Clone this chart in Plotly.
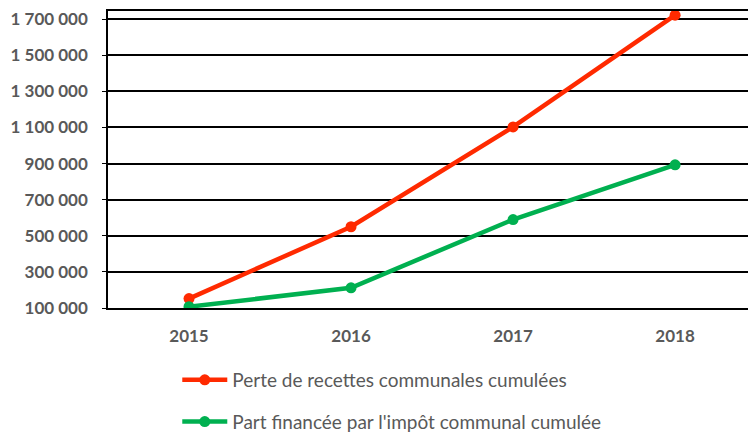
import plotly.graph_objects as go

years = ["2015", "2016", "2017", "2018"]
perte = [152000, 550000, 1103000, 1722000]
part = [107000, 212000, 590000, 893000]
y_ticks = [100000, 300000, 500000, 700000, 900000, 1100000, 1300000, 1500000, 1700000]
y_tick_labels = ["100 000", "300 000", "500 000", "700 000", "900 000",
                 "1 100 000", "1 300 000", "1 500 000", "1 700 000"]

fig = go.Figure()
fig.add_trace(go.Scatter(
    x=years, y=perte, mode="lines+markers",
    name="Perte de recettes communales cumulées",
    line=dict(color="#FF2A00", width=4.5),
    marker=dict(color="#FF2A00", size=11),
    legendgroup="a",
))
fig.add_trace(go.Scatter(
    x=years, y=part, mode="lines+markers",
    name="Part financée par l'impôt communal cumulée",
    line=dict(color="#00B050", width=4.5),
    marker=dict(color="#00B050", size=11),
    legendgroup="b",
))

tick_font = dict(family="Lato", size=17, color="#595959", weight="bold")

fig.update_layout(
    width=748, height=436,
    margin=dict(l=108, r=0, t=11, b=128, autoexpand=False),
    paper_bgcolor="white", plot_bgcolor="white",
    font=dict(family="Lato", color="#595959"),
    showlegend=True,
    legend=dict(
        orientation="v", xref="container", yref="container",
        x=0.237, y=0.172, xanchor="left", yanchor="top",
        font=dict(family="Lato", size=19, color="#595959"),
        tracegroupgap=14,
        itemwidth=45,
    ),
    xaxis=dict(
        type="category", range=[-0.5, 3.45],
        showgrid=False, showline=True, mirror=True,
        linecolor="black", linewidth=1.5,
        ticks="", tickfont=tick_font, ticklabelstandoff=12,
        zeroline=False, automargin=False,
    ),
    yaxis=dict(
        range=[100000, 1745000],
        tickvals=y_ticks, ticktext=y_tick_labels,
        showgrid=True, gridcolor="black", gridwidth=1.5,
        showline=True, linecolor="black", linewidth=1.5,
        ticks="outside", ticklen=4, tickcolor="black",
        tickfont=tick_font, ticklabelstandoff=11,
        zeroline=False, automargin=False,
    ),
)

fig.write_html("out.html", config={"displayModeBar": False},
               post_script="document.body.style.margin='0';")
